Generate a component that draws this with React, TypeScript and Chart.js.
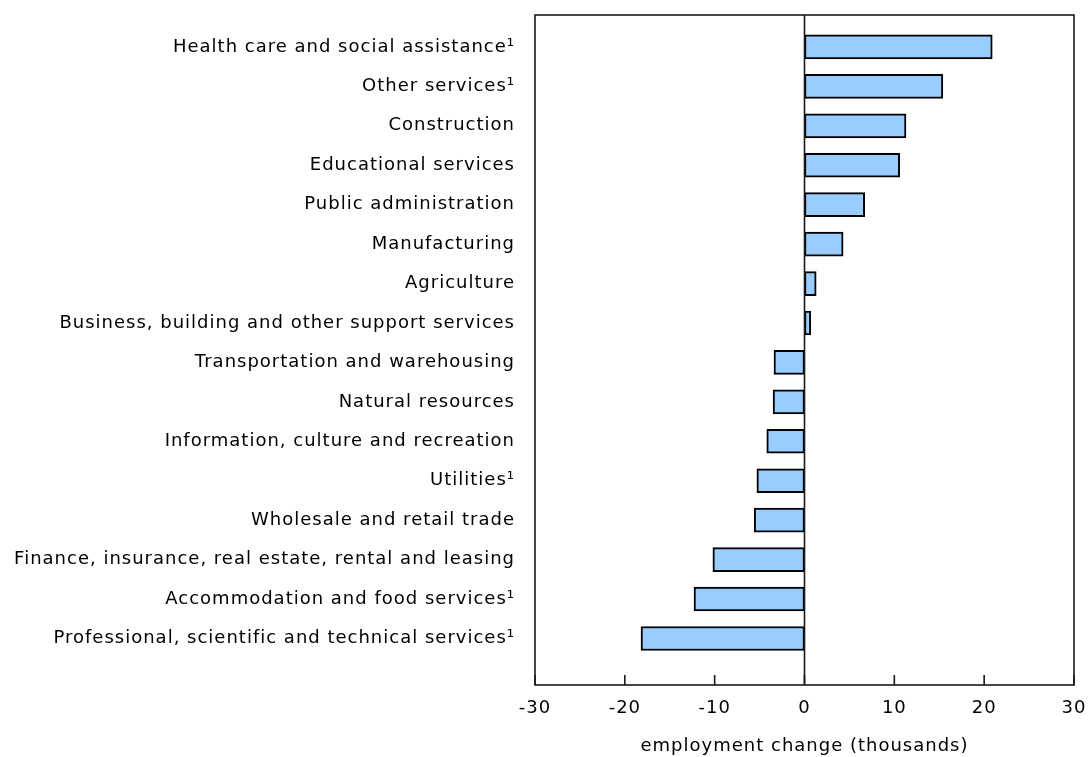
import React, { useEffect, useRef } from "react";
import { Chart, registerables } from "chart.js";

Chart.register(...registerables);

const categories: string[] = [
  "Health care and social assistance¹",
  "Other services¹",
  "Construction",
  "Educational services",
  "Public administration",
  "Manufacturing",
  "Agriculture",
  "Business, building and other support services",
  "Transportation and warehousing",
  "Natural resources",
  "Information, culture and recreation",
  "Utilities¹",
  "Wholesale and retail trade",
  "Finance, insurance, real estate, rental and leasing",
  "Accommodation and food services¹",
  "Professional, scientific and technical services¹",
];

const values: number[] = [
  20.9, 15.4, 11.3, 10.6, 6.7, 4.3, 1.3, 0.7, -3.4, -3.5, -4.2, -5.3, -5.6,
  -10.2, -12.3, -18.2,
];

const xTicks: number[] = [-30, -20, -10, 0, 10, 20, 30];
const xTitle = "employment change (thousands)";

const FONT = "'DejaVu Sans', Verdana, sans-serif";

const framePlugin = {
  id: "frame",
  beforeDraw(chart: any) {
    (chart.ctx as any).letterSpacing = "1px";
  },
  afterDatasetsDraw(chart: any) {
    const { ctx, chartArea } = chart;
    const xs = chart.scales.x;
    ctx.save();
    ctx.strokeStyle = "#1a1a1a";
    ctx.lineWidth = 1.6;
    ctx.strokeRect(
      chartArea.left,
      chartArea.top,
      chartArea.right - chartArea.left,
      chartArea.bottom - chartArea.top
    );
    const x0 = xs.getPixelForValue(0);
    ctx.beginPath();
    ctx.moveTo(x0, chartArea.top);
    ctx.lineTo(x0, chartArea.bottom);
    ctx.stroke();
    xTicks.forEach((t) => {
      const px = xs.getPixelForValue(t);
      ctx.beginPath();
      ctx.moveTo(px, chartArea.bottom);
      ctx.lineTo(px, chartArea.bottom - 10);
      ctx.stroke();
    });
    ctx.restore();
  },
};

export default function App() {
  const ref = useRef<HTMLCanvasElement | null>(null);

  useEffect(() => {
    document.body.style.margin = "0";
    if (!ref.current) return;
    const chart = new Chart(ref.current, {
      type: "bar",
      data: {
        datasets: [
          {
            data: values.map((v, i) => ({ x: v, y: i })) as any,
            backgroundColor: "#99CCFF",
            borderColor: "#000000",
            borderWidth: 2,
            borderSkipped: false,
            barThickness: 24,
          },
        ],
      },
      options: {
        indexAxis: "y",
        animation: false,
        responsive: false,
        maintainAspectRatio: false,
        layout: { padding: { top: 15, right: 14, left: 0, bottom: 0 } },
        plugins: {
          legend: { display: false },
          tooltip: { enabled: false },
        },
        scales: {
          x: {
            type: "linear",
            min: -30,
            max: 30,
            offset: false,
            grid: { display: false, drawTicks: false, tickLength: 0 },
            border: { display: false },
            ticks: {
              stepSize: 10,
              padding: 13,
              color: "#000",
              font: { family: FONT, size: 18 },
              maxRotation: 0,
            },
            title: {
              display: true,
              text: xTitle,
              color: "#000",
              font: { family: FONT, size: 18 },
              padding: { top: 0, bottom: 0 },
            },
            afterFit: (scale: any) => {
              scale.height = 72;
              scale.paddingLeft = 0;
              scale.paddingRight = 0;
            },
          },
          y: {
            type: "linear",
            reverse: true,
            min: -0.81,
            max: 16.18,
            offset: false,
            grid: { display: false, drawTicks: false, tickLength: 0, offset: false },
            border: { display: false },
            ticks: {
              stepSize: 1,
              autoSkip: false,
              maxTicksLimit: 100,
              padding: 20,
              color: "#000",
              font: { family: FONT, size: 18 },
              callback: (v: any) => {
                const n = Number(v);
                return Number.isInteger(n) && n >= 0 && n < categories.length
                  ? categories[n]
                  : "";
              },
            },
            afterFit: (scale: any) => {
              scale.width = 535;
              scale.paddingTop = 0;
              scale.paddingBottom = 0;
            },
          },
        },
      },
      plugins: [framePlugin],
    });
    return () => chart.destroy();
  }, []);

  return (
    <div style={{ width: 1088, height: 757, background: "#fff" }}>
      <canvas ref={ref} width={1088} height={757} style={{ display: "block" }} />
    </div>
  );
}
